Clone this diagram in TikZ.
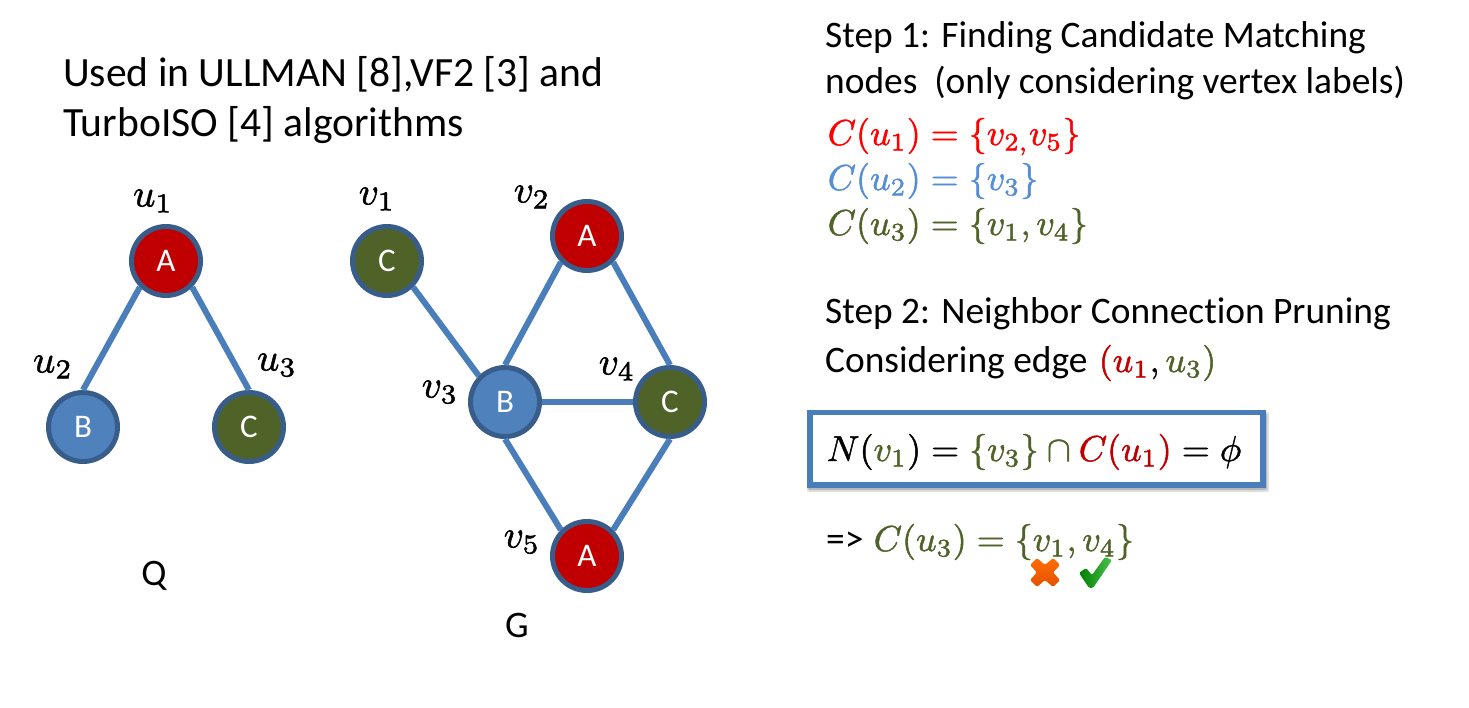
\documentclass[tikz,border=0pt]{standalone}
\usepackage{fontspec}
\setmainfont[Ligatures=NoCommon]{Carlito}
\definecolor{edgeblue}{HTML}{4A7EBB}
\definecolor{ringblue}{HTML}{385D8A}
\definecolor{nodeblue}{HTML}{4F81BD}
\definecolor{nodered}{HTML}{C00000}
\definecolor{nodegreen}{HTML}{4F6228}
\definecolor{lightblue}{HTML}{558ED5}
\newcommand{\rd}[1]{\textcolor{nodered}{#1}}
\newcommand{\gr}[1]{\textcolor{nodegreen}{#1}}
\newcommand{\hv}[1]{\special{pdf:code 2 Tr 0.13 w}#1\special{pdf:code 0 Tr}}
\tikzset{
  x=1pt,y=-1pt,
  vertex/.style={circle,draw=ringblue,line width=5pt,minimum size=69pt,inner sep=0pt,text=white,font=\fontsize{33}{36}\selectfont},
  link/.style={draw=edgeblue,line width=6pt},
  txt/.style={anchor=base west,inner sep=0pt,font=\fontsize{37.4}{40}\selectfont},
  title/.style={anchor=base west,inner sep=0pt,font=\fontsize{41.6}{44}\selectfont},
  mth/.style={anchor=base west,inner sep=0pt,scale=3.6},
  lbl/.style={anchor=center,inner sep=0pt,scale=3.9},
}
\begin{document}
\begin{tikzpicture}
\useasboundingbox (0,0) rectangle (1469,707);
% query graph
\node[vertex,fill=nodered] (u1) at (166,261) {A};
\node[vertex,fill=nodeblue] (u2) at (83,427) {B};
\node[vertex,fill=nodegreen] (u3) at (249,427) {C};
% data graph
\node[vertex,fill=nodegreen] (v1) at (387,261) {C};
\node[vertex,fill=nodered] (v2) at (587,236) {A};
\node[vertex,fill=nodeblue] (v3) at (505,402) {B};
\node[vertex,fill=nodegreen] (v4) at (670,402) {C};
\node[vertex,fill=nodered] (v5) at (587,556) {A};
\draw[link] (u1.south west) -- (u2.north);
\draw[link] (u1.south east) -- (u3.north);
\draw[link] (v1.south east) -- (v3.north west);
\draw[link] (v2.south west) -- (v3.north);
\draw[link] (v2.south east) -- (v4.north);
\draw[link] (v3.east) -- (v4.west);
\draw[link] (v3.south) -- (v5.north west);
\draw[link] (v4.south) -- (v5.north east);
% vertex labels
\node[lbl] (lu1) at (153,201) {\hv{$u_1$}};
\node[lbl] (lu2) at (53,367) {\hv{$u_2$}};
\node[lbl] (lu3) at (277,365) {\hv{$u_3$}};
\node[lbl] (lv1) at (377,199) {\hv{$v_1$}};
\node[lbl] (lv2) at (532,197) {\hv{$v_2$}};
\node[lbl] (lv3) at (440,392) {\hv{$v_3$}};
\node[lbl] (lv4) at (617,369) {\hv{$v_4$}};
\node[lbl] (lv5) at (522,542) {\hv{$v_5$}};
\node[txt,anchor=center] (q) at (154,576) {Q};
\node[txt,anchor=center] (g) at (517,625) {G};
% title
\node[title] (t1) at (63,86) {Used in ULLMAN [8],VF2 [3] and};
\node[title] (t2) at (63,136) {TurboISO [4] algorithms};
% step 1
\node[txt] (s1) at (825,47) {Step 1: Finding Candidate Matching};
\node[txt] (s1b) at (825,93) {nodes\ \ (only considering vertex labels)};
\node[mth,text=red] (c1) at (827,145) {\hv{$C(u_1)=\{v_{2,}v_5\}$}};
\node[mth,text=lightblue] (c2) at (827,190) {\hv{$C(u_2)=\{v_3\}$}};
\node[mth,text=nodegreen] (c3) at (827,235) {\hv{$C(u_3)=\{v_1,v_4\}$}};
% step 2
\node[txt] (s2) at (825,323) {Step 2: Neighbor Connection Pruning};
\node[txt] (s2b) at (825,372) {Considering edge};
\node[mth] (e) at (1098,372) {\hv{$\rd{(u_1},\gr{u_3)}$}};
% box
\fill[black!12,rounded corners=2pt] (807,412) rectangle (1269,492);
\fill[black!28,rounded corners=2pt] (808,413) rectangle (1267,490);
\node[draw=edgeblue,fill=white,line width=5.5pt,minimum width=453pt,minimum height=72.5pt,inner sep=0pt] (box) at (1036.5,448.7) {};
\node[mth] (n) at (826,461) {\hv{$N(\gr{v_1})=\gr{\{v_3\}\cap{}}\rd{C(u_1)}=\phi$}};
% result
\node[txt] (r) at (826,551) {=>};
\node[mth,text=nodegreen] (r2) at (873,551) {\hv{$C(u_3)=\{v_1,v_4\}$}};
% marks
\shade[top color=orange!85!red,bottom color=orange!70!red!90!black,rounded corners=1.5pt]
  (1037,558) -- (1045,565) -- (1053,558) -- (1060,565) -- (1053,572.5) -- (1060,580) -- (1053,587)
  -- (1045,580) -- (1037,587) -- (1030,580) -- (1037,572.5) -- (1030,565) -- cycle;
\shade[left color=green!50!black,right color=green!65!black!70!white,rounded corners=1.5pt]
  (1079,573) -- (1086,568) -- (1092,575) -- (1105,557) -- (1112,560) -- (1093,588) -- (1089,588) -- cycle;
\end{tikzpicture}
\end{document}
